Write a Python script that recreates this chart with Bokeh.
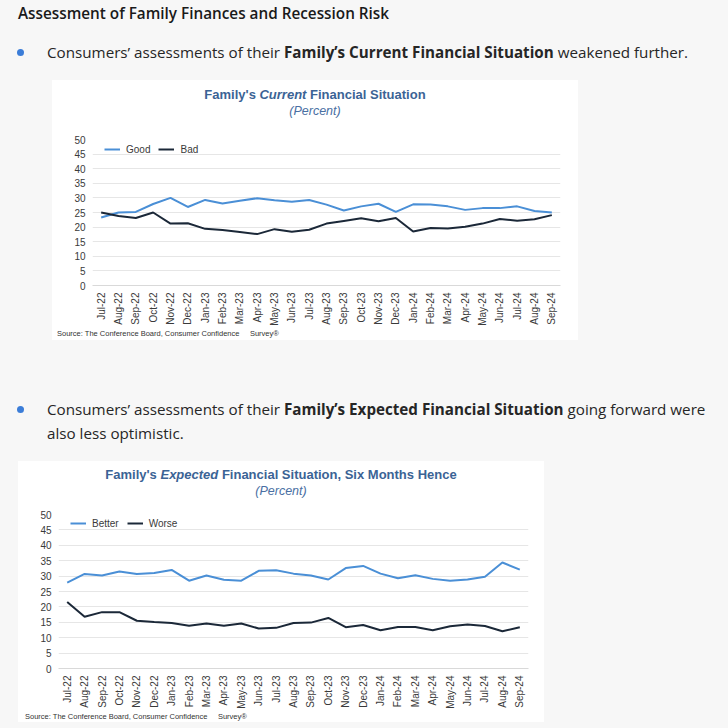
import math
from bokeh.plotting import figure
from bokeh.models import FactorRange, Range1d, FixedTicker, Div, Spacer, Legend
from bokeh.layouts import column, row
from bokeh.embed import file_html
from bokeh.resources import INLINE

months = ["Jul-22", "Aug-22", "Sep-22", "Oct-22", "Nov-22", "Dec-22", "Jan-23", "Feb-23",
          "Mar-23", "Apr-23", "May-23", "Jun-23", "Jul-23", "Aug-23", "Sep-23", "Oct-23",
          "Nov-23", "Dec-23", "Jan-24", "Feb-24", "Mar-24", "Apr-24", "May-24", "Jun-24",
          "Jul-24", "Aug-24", "Sep-24"]

good = [23.3, 25.0, 25.2, 27.9, 30.0, 26.9, 29.3, 28.1, 29.0, 29.9, 29.2, 28.7, 29.3, 27.7,
        25.7, 27.1, 28.0, 25.2, 27.8, 27.7, 27.1, 25.9, 26.5, 26.5, 27.1, 25.5, 25.0]
bad = [25.0, 23.8, 23.1, 25.0, 21.2, 21.3, 19.4, 19.0, 18.3, 17.6, 19.3, 18.4, 19.1, 21.2,
       22.1, 23.0, 22.0, 23.1, 18.5, 19.7, 19.5, 20.1, 21.2, 22.8, 22.2, 22.7, 24.1]
better = [27.9, 30.7, 30.2, 31.5, 30.7, 31.0, 32.0, 28.5, 30.2, 28.8, 28.5, 31.7, 31.9, 30.8,
          30.2, 28.9, 32.6, 33.3, 30.8, 29.3, 30.3, 29.1, 28.5, 28.9, 29.8, 34.4, 32.1]
worse = [21.6, 16.8, 18.3, 18.3, 15.5, 15.1, 14.8, 13.9, 14.6, 13.9, 14.6, 13.0, 13.2, 14.8,
         14.9, 16.4, 13.4, 14.1, 12.4, 13.5, 13.5, 12.4, 13.7, 14.3, 13.8, 12.1, 13.4]

y_ticks = [0, 5, 10, 15, 20, 25, 30, 35, 40, 45, 50]

LIGHT = "#4a8fd6"
DARK = "#1b2838"
PAGE_BG = "#f7f7f7"
TITLE_C = "#3b6395"
PAGE_FONT = "'Open Sans'"


def make_chart(s1, s2, n1, n2, height, lb, rb, tb, bb, leg_off):
    p = figure(x_range=FactorRange(factors=months), y_range=Range1d(0, 50),
               width=526, height=height, output_backend="svg", toolbar_location=None,
               min_border_left=lb, min_border_right=rb, min_border_top=tb,
               min_border_bottom=bb, background_fill_color="white",
               border_fill_color="white", outline_line_color=None)
    r1 = p.line(x=months, y=s1, line_color=LIGHT, line_width=2)
    r2 = p.line(x=months, y=s2, line_color=DARK, line_width=2)
    for ax in (p.xaxis, p.yaxis):
        ax.major_tick_line_color = None
        ax.minor_tick_line_color = None
        ax.major_tick_out = 0
        ax.major_tick_in = 0
        ax.minor_tick_out = 0
        ax.minor_tick_in = 0
        ax.major_label_text_font = "Liberation Sans"
        ax.major_label_text_font_size = "10px"
        ax.major_label_text_color = "#3a3a3a"
    p.yaxis.ticker = FixedTicker(ticks=y_ticks)
    p.yaxis.axis_line_color = None
    p.yaxis.major_label_standoff = 7
    p.xaxis.axis_line_color = "#d9d9d9"
    p.xaxis.major_label_orientation = math.pi / 2
    p.xaxis.major_label_standoff = 7
    p.xgrid.grid_line_color = None
    p.ygrid.grid_line_color = "#e6e6e6"
    p.ygrid.ticker = FixedTicker(ticks=y_ticks)
    frame_h = height - tb - bb
    leg = Legend(items=[(n1, [r1]), (n2, [r2])], orientation="horizontal",
                 location=(12, frame_h - leg_off), padding=0, margin=0, spacing=8,
                 glyph_width=16, glyph_height=14, label_height=14, label_standoff=6,
                 label_text_font="Liberation Sans", label_text_font_size="10px",
                 label_text_color="#3a3a3a", border_line_color=None,
                 background_fill_alpha=0)
    p.add_layout(leg, "center")
    return p


def title_div(main_html, h, pad):
    html = (f'<div style="width:526px;height:{h}px;box-sizing:border-box;padding-top:{pad}px;'
            f'text-align:center;font-family:\'Liberation Sans\';color:{TITLE_C};">'
            f'<div style="font-size:13px;font-weight:700;line-height:16px;white-space:nowrap;">{main_html}</div>'
            f'<div style="font-size:12.5px;font-style:italic;line-height:16px;color:#4a6fa3;">(Percent)</div>'
            f'</div>')
    return Div(text=html, width=526, height=h, margin=0, styles={"background-color": "white"})


def source_div(h, left, lh):
    html = (f'<div style="position:relative;top:-4px;width:526px;height:{h}px;padding-left:{left}px;'
            f'box-sizing:border-box;font-family:\'Liberation Sans\';font-size:7.5px;'
            f'line-height:{lh}px;color:#333;white-space:nowrap;">Source: The Conference Board, '
            f'Consumer Confidence&nbsp;&nbsp;&nbsp;&nbsp; Survey&reg;</div>')
    return Div(text=html, width=526, height=h, margin=0, styles={"background-color": "white"})


header_html = f'''<div style="position:relative;width:728px;height:80px;font-family:{PAGE_FONT};">
<div style="position:absolute;left:18px;top:3px;font-weight:600;font-size:15.3px;line-height:20px;color:#1a1a1a;white-space:nowrap;">Assessment of Family Finances and Recession Risk</div>
<div style="position:absolute;left:17px;top:49px;width:7px;height:7px;border-radius:50%;background:#3b7dd8;"></div>
<div style="position:absolute;left:47px;top:40px;font-size:15.2px;line-height:24px;color:#262626;white-space:nowrap;">Consumers&rsquo; assessments of their <b>Family&rsquo;s Current Financial Situation</b> weakened further.</div>
</div>'''

bullet2_html = f'''<div style="position:relative;width:728px;height:121px;font-family:{PAGE_FONT};">
<div style="position:absolute;left:17px;top:66px;width:7px;height:7px;border-radius:50%;background:#3b7dd8;"></div>
<div style="position:absolute;left:47px;top:57px;font-size:15.2px;line-height:24px;color:#262626;white-space:nowrap;">Consumers&rsquo; assessments of their <b>Family&rsquo;s Expected Financial Situation</b> going forward were<br>also less optimistic.</div>
</div>'''

header = Div(text=header_html, width=728, height=80, margin=0)
bullet2 = Div(text=bullet2_html, width=728, height=121, margin=0)

p1 = make_chart(good, bad, "Good", "Bad", 194, 40, 18, 5, 42, 18)
p2 = make_chart(better, worse, "Better", "Worse", 205, 40, 16, 8, 43, 16)

box1 = column(title_div("Family's <i>Current</i> Financial Situation", 54, 7), p1, source_div(12, 5, 8),
              width=526, height=260, spacing=0, margin=0, styles={"background-color": "white"})
box2 = column(title_div("Family's <i>Expected</i> Financial Situation, Six Months Hence", 45, 6), p2,
              source_div(11, 7, 9), width=526, height=261, spacing=0, margin=0,
              styles={"background-color": "white"})

row1 = row(Spacer(width=52, height=260, margin=0), box1, width=728, height=260, spacing=0, margin=0)
row2 = row(Spacer(width=18, height=261, margin=0), box2, width=728, height=261, spacing=0, margin=0)

page = column(header, row1, bullet2, row2, Spacer(width=728, height=6, margin=0),
              width=728, height=728, spacing=0, margin=0,
              styles={"background-color": PAGE_BG})

open("out.html", "w").write(file_html(page, INLINE))
